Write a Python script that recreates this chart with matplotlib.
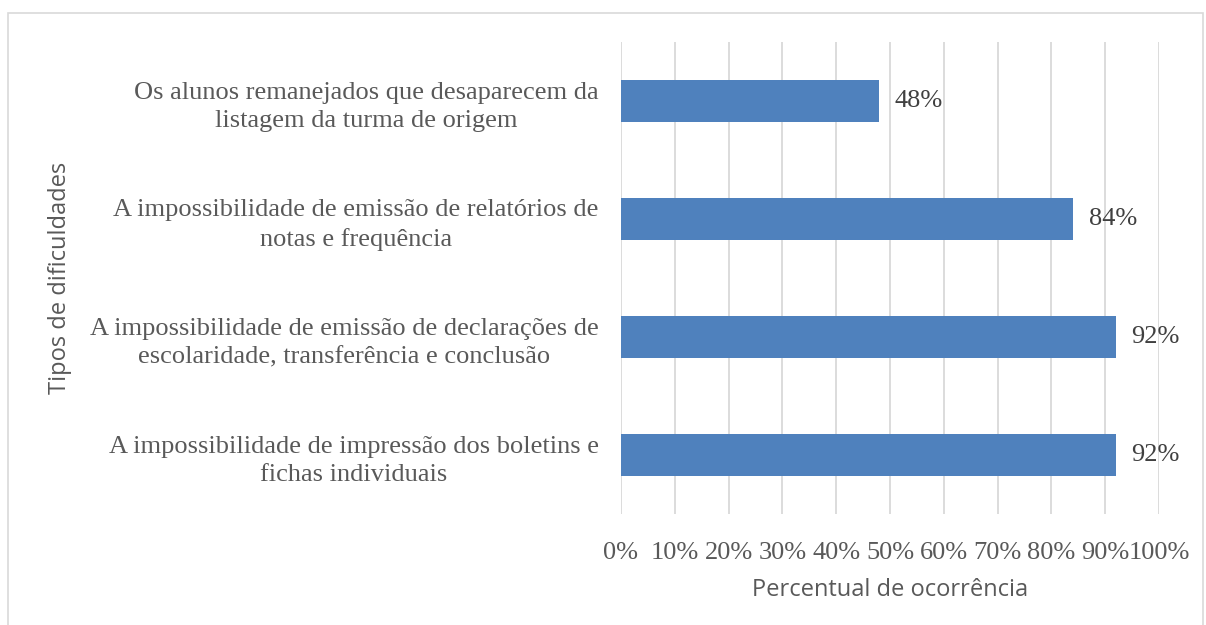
import matplotlib.pyplot as plt
import matplotlib.patches as mpatches
from matplotlib.ticker import FuncFormatter, MultipleLocator

categories = [
    "A impossibilidade de impressão dos boletins e\nfichas individuais",
    "A impossibilidade de emissão de declarações de\nescolaridade, transferência e conclusão",
    "A impossibilidade de emissão de relatórios de\nnotas e frequência",
    "Os alunos remanejados que desaparecem da\nlistagem da turma de origem",
]
values = [0.92, 0.92, 0.84, 0.48]
value_labels = ["92%", "92%", "84%", "48%"]

serif = ["Liberation Serif", "DejaVu Serif"]
sans = ["Open Sans", "DejaVu Sans"]
txt = "#595959"

fig = plt.figure(figsize=(12.06, 6.25), dpi=100)
# outer chart frame
fig.patches.append(mpatches.Rectangle((8 / 1206, -0.01), 1195 / 1206, 1 - 13 / 625 + 0.01,
                                      transform=fig.transFigure, fill=False,
                                      edgecolor="#D9D9D9", linewidth=1.2))

ax = fig.add_axes([621 / 1206, 1 - 514 / 625, (1159 - 621) / 1206, (514 - 42) / 625])
y = range(len(categories))
ax.barh(y, values, height=0.36, color="#4F81BD", zorder=3)
for yi, v, lab in zip(y, values, value_labels):
    ax.text(v + 0.029, yi, lab, va="center", ha="left", fontsize=19,
            family=serif, color="#404040")

ax.set_xlim(0, 1)
ax.set_ylim(-0.5, 3.5)
ax.xaxis.set_major_locator(MultipleLocator(0.1))
ax.xaxis.set_major_formatter(FuncFormatter(lambda x, p: f"{x * 100:.0f}%"))
ax.grid(axis="x", color="#D9D9D9", linewidth=1.3, zorder=0)
ax.set_yticks(list(y))
ax.set_yticklabels(categories, family=serif, fontsize=19, color=txt,
                   linespacing=1.4, multialignment="center")
for lab in ax.get_xticklabels():
    lab.set_family(serif)
    lab.set_fontsize(19)
    lab.set_color(txt)
ax.tick_params(length=0)
ax.tick_params(axis="y", pad=16)
ax.tick_params(axis="x", pad=20)
for s in ax.spines.values():
    s.set_visible(False)

ax.set_xlabel("Percentual de ocorrência", family=sans, fontsize=17, color=txt, labelpad=10)
fig.text(60 / 1206, 1 - 278 / 625, "Tipos de dificuldades", rotation=90, va="center",
         ha="center", family=sans, fontsize=17, color=txt)

fig.savefig("out.png", dpi=100)
